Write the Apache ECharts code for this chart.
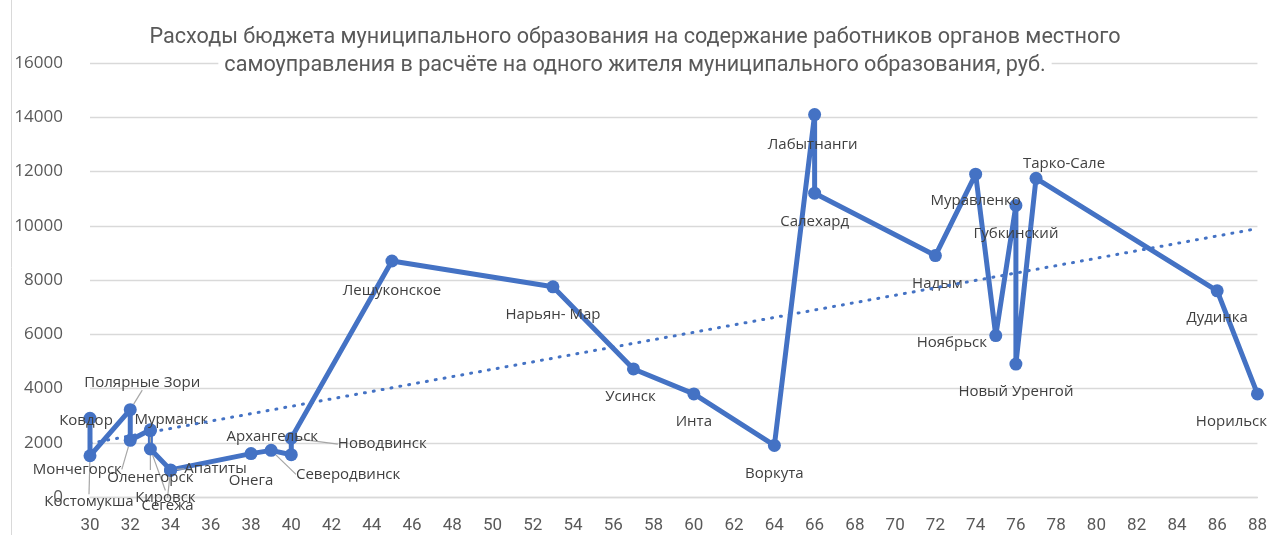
<!DOCTYPE html>
<html><head><meta charset="utf-8">
<script src="https://cdn.jsdelivr.net/npm/echarts@6/dist/echarts.min.js"></script>
<style>html,body{margin:0;padding:0;background:#fff}#c{width:1270px;height:535px}</style>
</head><body><div id="c"></div>
<script>
// ---- data ----
const cities = ['Ковдор','Костомукша','Полярные Зори','Мончегорск','Мурманск','Оленегорск','Кировск','Апатиты','Сегежа','Онега','Северодвинск','Архангельск','Новодвинск','Лешуконское','Нарьян- Мар','Усинск','Инта','Воркута','Лабытнанги','Салехард','Надым','Муравленко','Ноябрьск','Губкинский','Новый Уренгой','Тарко-Сале','Дудинка','Норильск'];
const longitude = [30,30,32,32,33,33,33,34,34,38,39,40,40,45,53,57,60,64,66,66,72,74,75,76,76,77,86,88];
const spending = [2900,1520,3220,2090,2480,2450,1770,1000,980,1600,1720,1560,2170,8700,7750,4720,3800,1900,14100,11200,8900,11900,5950,10750,4900,11750,7600,3800];
const titleLines = ['Расходы бюджета муниципального образования на содержание работников органов местного','самоуправления в расчёте на одного жителя муниципального образования, руб.'];

// ---- label placement (layout only: dx, dy from the point, leader line) ----
const labelPlacement = [
  [-4,2,false],[-1,46,true],[12,-27,true],[-53,29,true],[21,-10,false],[0,47,true],[15,49,true],
  [45,-1,true],[-3,35,true],[0,27,false],[77,24,true],[-19,-18,false],[91,6,true],
  [0,30,false],[0,28,false],[-3,28,false],[0,28,false],[0,28,false],[-2,30,false],[0,29,false],
  [2,28,false],[0,27,false],[-44,7,false],[0,28,false],[0,28,false],[28,-15,false],[0,27,false],[-26,28,false]
];

// linear trend (least squares) from the data
const n = longitude.length;
const mx = longitude.reduce((a,b)=>a+b,0)/n;
const my = spending.reduce((a,b)=>a+b,0)/n;
let sxy=0, sxx=0;
for (let i=0;i<n;i++){ sxy+=(longitude[i]-mx)*(spending[i]-my); sxx+=(longitude[i]-mx)**2; }
const slope = sxy/sxx, icpt = my - slope*mx;
const xMin = Math.min(...longitude), xMax = Math.max(...longitude);
const trend = [[xMin, icpt+slope*xMin],[xMax, icpt+slope*xMax]];

const pts = longitude.map((x,i)=>[x, spending[i]]);
const scatterData = cities.map((c,i)=>({name:c, value:[longitude[i], spending[i]], labelLine:{show:labelPlacement[i][2]}}));

const chart = echarts.init(document.getElementById('c'), null, {renderer:'canvas'});
chart.setOption({
  animation:false,
  backgroundColor:'#fff',
  title:{
    text: titleLines.map(t=>'{t|'+t+'}').join('\n'),
    left:'center', top:19,
    textStyle:{ fontWeight:'normal', rich:{ t:{ fontFamily:'Roboto', fontWeight:'normal', fontSize:21.6, color:'#595959', lineHeight:28, backgroundColor:'#fff', padding:[0,6] } } }
  },
  graphic:[{type:'line', shape:{x1:11.5,y1:0,x2:11.5,y2:535}, style:{stroke:'#d9d9d9', lineWidth:1}, silent:true}],
  grid:{left:90, right:9, top:63, bottom:38},
  xAxis:{
    type:'value', min:30, max:88, interval:2,
    axisLabel:{color:'#595959', fontSize:17, fontFamily:'Roboto', margin:20},
    splitLine:{show:false},
    axisLine:{show:true, lineStyle:{color:'#d9d9d9', width:1.3}},
    axisTick:{show:false}
  },
  yAxis:{
    type:'value', min:0, max:16000, interval:2000,
    axisLabel:{color:'#595959', fontSize:17, fontFamily:'Open Sans', margin:27, formatter:v=>String(v)},
    splitLine:{lineStyle:{color:'#d9d9d9', width:1.3}},
    axisLine:{show:false}, axisTick:{show:false}
  },
  series:[
    {type:'line', data:pts, showSymbol:false, symbol:'none', z:2,
     lineStyle:{color:'#4472C4', width:5, join:'round'}},
    {type:'scatter', data:scatterData, symbol:'circle', symbolSize:13, z:3,
     itemStyle:{color:'#4472C4', opacity:1},
     label:{show:true, position:'inside', formatter:'{b}', color:'#404040', fontSize:15, fontFamily:'Open Sans', textBorderWidth:0},
     labelLayout:function(p){ const o=labelPlacement[p.dataIndex]; return {dx:o[0], dy:o[1]}; },
     labelLine:{show:false, lineStyle:{color:'#a6a6a6', width:1.2}}},
    {type:'line', data:trend, showSymbol:false, symbol:'none', z:4,
     lineStyle:{color:'#4472C4', width:3, type:[1,8], cap:'round'}}
  ]
});
</script>
</body></html>
